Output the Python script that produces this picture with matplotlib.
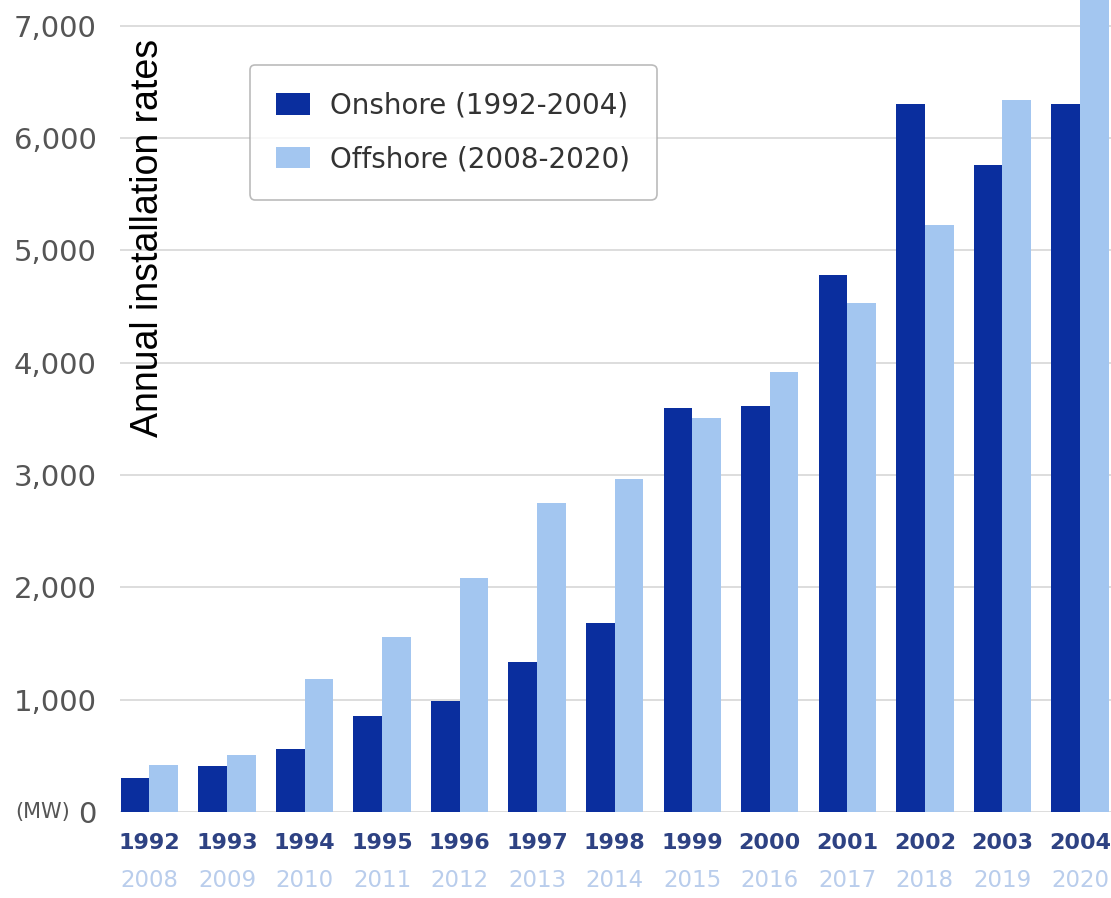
import numpy as np
import matplotlib
matplotlib.use('Agg')
import matplotlib.pyplot as plt

# --- Data ---
onshore_years = ['1992', '1993', '1994', '1995', '1996', '1997', '1998',
                 '1999', '2000', '2001', '2002', '2003', '2004']
offshore_years = ['2008', '2009', '2010', '2011', '2012', '2013', '2014',
                  '2015', '2016', '2017', '2018', '2019', '2020']
onshore_mw = [300, 410, 560, 850, 990, 1330, 1680, 3600, 3615, 4780, 6300, 5760, 6300]
offshore_mw = [420, 510, 1180, 1560, 2080, 2750, 2960, 3510, 3920, 4530, 5230, 6340, 8000]
yticks = [0, 1000, 2000, 3000, 4000, 5000, 6000, 7000]

dark = '#0a2e9e'
light = '#a3c6f0'

fig = plt.figure(figsize=(11.11, 8.98), dpi=100)
ax = fig.add_axes([0.108, 0.096, 0.892, 0.904])

x = np.arange(len(onshore_years))
w = 0.37
ax.bar(x - w / 2, onshore_mw, width=w, color=dark, label='Onshore (1992-2004)', zorder=3)
ax.bar(x + w / 2, offshore_mw, width=w, color=light, label='Offshore (2008-2020)', zorder=3)

ax.set_xlim(-0.38, 12.4)
ax.set_ylim(0, 7230)

# grid and axes
ax.set_yticks(yticks)
ax.set_yticklabels([f'{v:,}' for v in yticks], fontsize=21, color='#555555')
ax.grid(axis='y', color='#dddddd', lw=1.4, zorder=0)
ax.tick_params(axis='y', length=0, pad=17)
ax.set_xticks([])
for s in ax.spines.values():
    s.set_visible(False)

# two rows of year labels
tr = ax.get_xaxis_transform()
for i in range(len(x)):
    ax.text(x[i], -0.039, onshore_years[i], transform=tr, ha='center', va='center',
            fontsize=16, fontweight='bold', color='#2e4283')
    ax.text(x[i], -0.085, offshore_years[i], transform=tr, ha='center', va='center',
            fontsize=16.5, color='#b9cdec')

ax.text(-0.05, 0.0, '(MW)', transform=ax.transAxes, ha='right', va='center',
        fontsize=15, color='#555555')

fig.text(0.133, 0.735, 'Annual installation rates', rotation=90, ha='center', va='center',
         fontsize=27, family='Liberation Sans', color='black')

leg = ax.legend(loc='upper left', bbox_to_anchor=(0.131, 0.92), borderaxespad=0,
                fontsize=20, handlelength=1.2, handleheight=0.83, labelspacing=0.93,
                borderpad=0.95, handletextpad=0.75, frameon=True, fancybox=True)
leg.get_frame().set_edgecolor('#aaaaaa')
leg.get_frame().set_linewidth(1.2)
for t in leg.get_texts():
    t.set_color('#333333')

fig.savefig('out.png', dpi=100)
